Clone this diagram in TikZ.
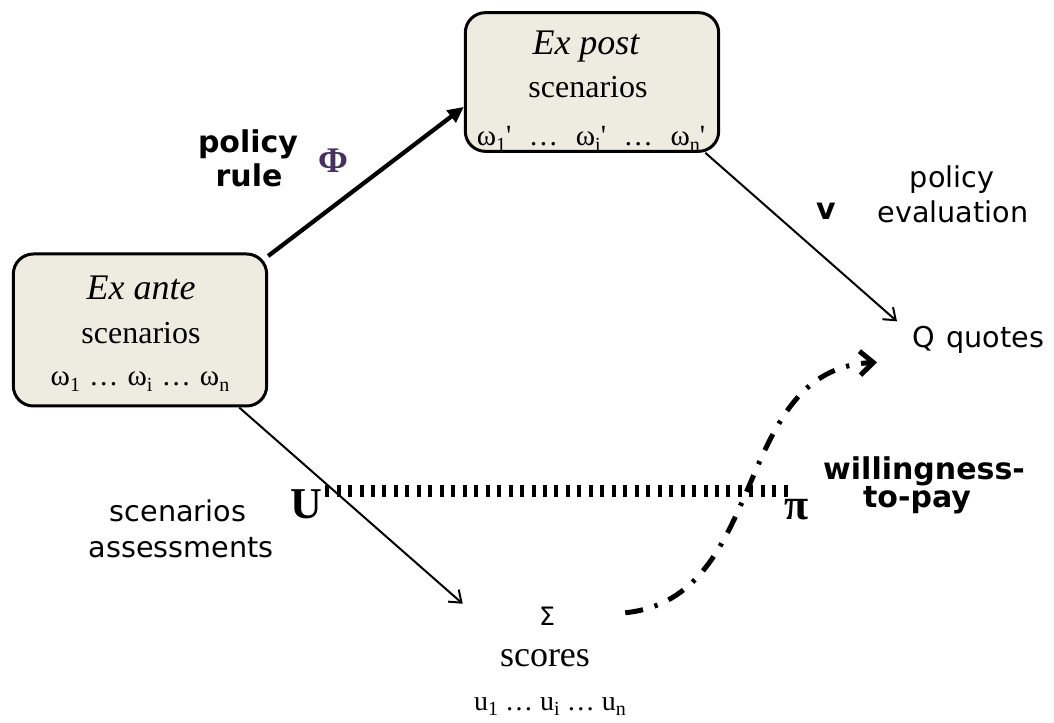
\documentclass[tikz,border=0pt]{standalone}
\usepackage{fontspec}
\setmainfont{Liberation Serif}
\newfontfamily\labsans{DejaVu Sans}
\usetikzlibrary{arrows.meta,calc}
\definecolor{boxfill}{HTML}{EEECE1}
\definecolor{phicol}{HTML}{45325E}
\newcommand\lsub[1]{\raisebox{-0.2em}{\fontsize{15pt}{15pt}\selectfont #1}}
\newcommand\wgap{\hspace{0.06em}}
\newcommand\pgap{\hspace{0.35em}}
\begin{document}
\begin{tikzpicture}[x=0.75pt,y=-0.75pt,
  scen/.style={draw=black,line width=2.25pt,fill=boxfill,rounded corners=15pt,inner sep=0pt},
  serifit/.style={font=\itshape\fontsize{27pt}{30pt}\selectfont,inner sep=0pt},
  serifbig/.style={font=\fontsize{24pt}{27pt}\selectfont,inner sep=0pt},
  serifsc/.style={font=\fontsize{27pt}{30pt}\selectfont,inner sep=0pt},
  serifsm/.style={font=\fontsize{22pt}{25pt}\selectfont,inner sep=0pt},
  serifu/.style={font=\fontsize{21pt}{24pt}\selectfont,inner sep=0pt},
  sans/.style={font=\labsans\fontsize{21.5pt}{25pt}\selectfont,inner sep=0pt},
  sansb/.style={font=\labsans\bfseries\fontsize{22.5pt}{27pt}\selectfont,inner sep=0pt},
  sigmafont/.style={font=\labsans\fontsize{19pt}{22pt}\selectfont,inner sep=0pt},
  bigsym/.style={font=\bfseries\fontsize{33pt}{36pt}\selectfont,inner sep=0pt},
  phifont/.style={font=\bfseries\fontsize{27pt}{30pt}\selectfont,text=phicol,inner sep=0pt},
  thickarrow/.style={line width=3.2pt,-{Triangle[length=12pt,width=11pt]}},
  thinarrow/.style={line width=1.5pt,-{Straight Barb[length=8pt,width=12pt]}},
  wtpline/.style={line width=9.5pt,dash pattern=on 3pt off 5.6pt},
  dashdotarrow/.style={line width=3.75pt,dash pattern=on 13.5pt off 9pt on 2.5pt off 9pt,
    -{Straight Barb[length=10pt,width=18pt]}}
]
\useasboundingbox (0,0) rectangle (1054,723);

% boxes
\node[scen,minimum width=190pt,minimum height=114pt] (ante) at (140,330) {};
\node[scen,minimum width=190pt,minimum height=104pt] (post) at (592,82) {};

% box texts
\node[serifit,anchor=base] (anteA) at (141,300) {Ex ante};
\node[serifbig,anchor=base] (anteB) at (141,344) {scenarios};
\node[serifsm,anchor=base] (anteC) at (140,386) {ω\lsub{1} \wgap…\wgap{} ω\lsub{i} \wgap…\wgap{} ω\lsub{n}};
\node[serifit,anchor=base] (postA) at (586,55) {Ex post};
\node[serifbig,anchor=base] (postB) at (588,98) {scenarios};
\node[serifsm,anchor=base] (postC) at (591,146) {ω\lsub{1}\textquotesingle{} \pgap…\pgap{} ω\lsub{i}\textquotesingle{} \pgap…\pgap{} ω\lsub{n}\textquotesingle};

% labels
\node[sansb,anchor=base] (polA) at (248,153) {policy};
\node[sansb,anchor=base] (polB) at (249,187) {rule};
\node[phifont,anchor=base] (phi) at (333,173) {Φ};
\node[sansb,anchor=base] (v) at (826,220) {v};
\node[sans,anchor=base] (evalA) at (952,188) {policy};
\node[sans,anchor=base] (evalB) at (953,223) {evaluation};
\node[sans,anchor=base west] (quotes) at (912,348) {Q\hspace{0.4em}quotes};
\node[sansb,anchor=base] (wtpA) at (924,480) {willingness-};
\node[sansb,anchor=base] (wtpB) at (917,508) {to-pay};
\node[sans,anchor=base] (assA) at (178,522) {scenarios};
\node[sans,anchor=base] (assB) at (181,558) {assessments};
\node[bigsym,anchor=base] (U) at (306,519) {U};
\node[bigsym,anchor=base] (pi) at (797,520) {π};
\node[sigmafont,anchor=base] (sigma) at (547,625) {Σ};
\node[serifsc,anchor=base] (scores) at (545,667) {scores};
\node[serifu,anchor=base] (us) at (550,710) {u\lsub{1} … u\lsub{i} … u\lsub{n}};

% connectors
\draw[thickarrow] (ante.30) -- (post.191);
\draw[thinarrow] (post.-32) -- ($(quotes.west)+(-15,-19)$);
\draw[thinarrow] (ante.-38) -- ($(sigma.west)+(-76,-12)$);
\draw[wtpline] ($(U.base east)+(3,-28)$) -- ($(pi.base west)+(5,-29)$);
\coordinate (cs) at ($(sigma.east)+(70,-3)$);
\coordinate (ce) at ($(quotes.west)+(-35,22)$);
\draw[dashdotarrow] (cs) .. controls ($(cs)+(145,-15)$) and ($(ce)+(-147,7)$) .. (ce);
\end{tikzpicture}
\end{document}
